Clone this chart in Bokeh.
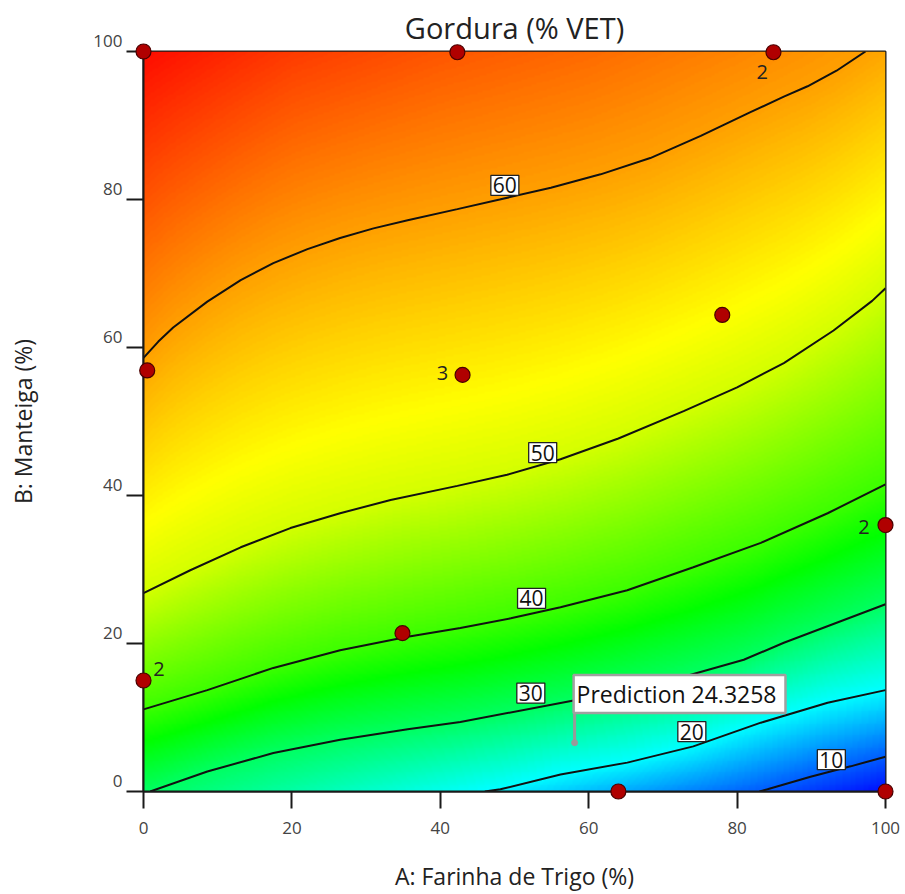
import numpy as np
from bokeh.plotting import figure
from bokeh.models import LinearColorMapper, Label, Range1d, FixedTicker, ColumnDataSource
from bokeh.embed import file_html
from bokeh.resources import INLINE
from bokeh.core.properties import value

# ---------------- data ----------------
levels = [10, 20, 30, 40, 50, 60]

c10_x = [83.0, 84.1, 89.9, 95.3, 100.0]
c10_y = [0.0, 0.3, 2.0, 3.4, 4.7]
c20_x = [46.0, 48.1, 56.2, 65.2, 74.1, 83.2, 92.2, 100.0]
c20_y = [0.0, 0.3, 2.3, 3.9, 6.1, 9.3, 12.0, 13.7]
c30_x = [0.9, 8.6, 17.5, 26.5, 35.6, 42.7, 58.5, 72.8, 80.9, 86.3, 100.0]
c30_y = [0.0, 2.7, 5.2, 7.0, 8.4, 9.4, 12.4, 15.5, 17.8, 20.1, 25.3]
c40_x = [0.0, 8.6, 17.5, 26.5, 35.6, 42.7, 49.5, 56.2, 65.2, 74.1, 83.2, 92.2, 100.0]
c40_y = [11.1, 13.7, 16.7, 19.1, 20.9, 22.1, 23.4, 24.9, 27.2, 30.3, 33.6, 37.6, 41.5]
c50_x = [0.0, 6.3, 13.1, 19.8, 26.5, 33.3, 42.3, 49.0, 56.2, 64.0, 72.8, 80.0, 86.3, 93.0, 98.2, 100.0]
c50_y = [26.8, 29.9, 33.0, 35.6, 37.6, 39.4, 41.3, 42.8, 44.9, 47.7, 51.4, 54.6, 57.9, 62.3, 66.3, 68.0]
c60_x = [0.0, 2.0, 4.0, 8.6, 13.1, 17.5, 22.1, 26.5, 31.0, 35.6, 42.3, 48.0, 54.9, 61.6, 68.3, 75.1, 81.8, 86.3, 89.5, 93.4, 97.3]
c60_y = [58.6, 60.8, 62.7, 66.2, 69.1, 71.4, 73.3, 74.8, 76.1, 77.2, 78.7, 80.0, 81.6, 83.4, 85.6, 88.6, 91.8, 93.9, 95.3, 97.4, 100.0]

# estimated response along the bottom and top edges
bottom_x = [0.0, 0.9, 46.0, 83.0, 100.0]
bottom_v = [29.7, 30.0, 20.0, 10.0, 5.0]
top_x = [0.0, 20.0, 40.0, 60.0, 80.0, 97.3, 100.0]
top_v = [71.0, 67.5, 65.5, 64.0, 62.0, 60.0, 59.5]

label_x = [48.7, 53.8, 52.3, 52.2, 73.9, 92.7]
label_y = [81.9, 45.8, 26.1, 13.3, 8.1, 4.3]
label_txt = ["60", "50", "40", "30", "20", "10"]

pt_x = [0.0, 42.3, 84.9, 0.5, 43.0, 78.0, 100.0, 34.9, 0.0, 64.0, 100.0]
pt_y = [100.0, 99.9, 99.9, 56.9, 56.3, 64.4, 36.0, 21.4, 15.0, 0.0, 0.0]

rep_x = [83.4, 40.3, 97.1, 2.1]
rep_y = [97.2, 56.6, 35.8, 16.5]
rep_txt = ["2", "3", "2", "2"]

pred_x = 58.1
pred_y = 6.6
pred_text = "Prediction  24.3258"

x_ticks = [0, 20, 40, 60, 80, 100]
y_ticks = [0, 20, 40, 60, 80, 100]
y_tick_labels = ["0", "20", "40", "60", "80", "100"]

contours = {10: (c10_x, c10_y), 20: (c20_x, c20_y), 30: (c30_x, c30_y),
            40: (c40_x, c40_y), 50: (c50_x, c50_y), 60: (c60_x, c60_y)}

# ---------------- colour field from contour positions ----------------
nx, ny = 400, 400
xs = np.linspace(0, 100, nx)
ys = np.linspace(0, 100, ny)
bot = np.interp(xs, bottom_x, bottom_v)
top = np.interp(xs, top_x, top_v)
field = np.zeros((ny, nx))
for i, xv in enumerate(xs):
    ky = [0.0]
    kv = [bot[i]]
    for lev in levels:
        cx, cy = contours[lev]
        if cx[0] <= xv <= cx[-1]:
            yy = float(np.interp(xv, cx, cy))
            if 0.0 < yy < 100.0:
                ky.append(yy)
                kv.append(lev)
    ky.append(100.0)
    kv.append(top[i])
    o = np.argsort(ky)
    field[:, i] = np.interp(ys, np.array(ky)[o], np.array(kv)[o])

# blue -> cyan -> green -> yellow -> red, anchored at response values
stop_v = [4.0, 20.0, 36.0, 53.0, 72.0]
stop_rgb = [(0, 0, 255), (0, 255, 255), (0, 255, 0), (255, 255, 0), (255, 0, 0)]
LOW, HIGH = stop_v[0], stop_v[-1]
palette = []
for k in range(256):
    v = LOW + (HIGH - LOW) * k / 255
    rgb = [int(round(np.interp(v, stop_v, [c[ch] for c in stop_rgb]))) for ch in range(3)]
    palette.append("#%02x%02x%02x" % tuple(rgb))
mapper = LinearColorMapper(palette=palette, low=LOW, high=HIGH)

# ---------------- figure ----------------
FONT = "Open Sans"
p = figure(width=905, height=894, output_backend="svg", toolbar_location=None,
           x_range=Range1d(0, 100), y_range=Range1d(0, 100),
           min_border_left=143, min_border_right=20, min_border_top=50, min_border_bottom=100,
           title="Gordura (% VET)")
p.title.align = "center"
p.title.text_font = FONT
p.title.text_font_size = "29px"
p.title.text_font_style = "normal"
p.title.text_color = "#222222"
p.title.standoff = 10
p.grid.visible = False
p.outline_line_color = "#1a1a1a"
p.outline_line_width = 2
p.outline_line_alpha = 1

p.image(image=[field], x=0, y=0, dw=100, dh=100, color_mapper=mapper)

for lev in levels:
    cx, cy = contours[lev]
    p.line(cx, cy, line_color="#111111", line_width=2)

for xx, yy, tt in zip(label_x, label_y, label_txt):
    p.add_layout(Label(x=xx, y=yy, text=tt, text_align="center", text_baseline="middle",
                       text_font=FONT, text_font_size="21px", text_color="#111111",
                       background_fill_color="white", border_line_color="#222222",
                       border_line_width=1.3, padding=2))

# prediction flag
p.segment(x0=[pred_x], y0=[pred_y], x1=[pred_x], y1=[pred_y + 4.0], line_color="#999999", line_width=3)
p.scatter([pred_x], [pred_y], size=6, fill_color="#999999", line_color="#999999")
p.add_layout(Label(x=pred_x, y=pred_y + 4.0, text=pred_text, text_align="left", text_baseline="bottom",
                   x_offset=-1, text_font=FONT, text_font_size="23px", text_color="#111111",
                   background_fill_color="white", border_line_color="#a0a0a0",
                   border_line_width=2.5, padding=3))

# design points
pts = p.scatter(pt_x, pt_y, size=15, fill_color="#b00000", line_color="#4a0000", line_width=1.2)
pts.level = "overlay"
src = ColumnDataSource(dict(x=rep_x, y=rep_y, t=rep_txt))
p.text(x="x", y="y", text="t", source=src, text_font=value(FONT), text_font_size="20px",
       text_color="#222222", text_align="center", text_baseline="middle")

# axes
for ax in (p.xaxis[0], p.yaxis[0]):
    ax.axis_line_color = "#1a1a1a"
    ax.axis_line_width = 2
    ax.major_tick_line_color = "#1a1a1a"
    ax.major_tick_line_width = 2
    ax.major_tick_in = 0
    ax.major_tick_out = 17
    ax.minor_tick_line_color = None
    ax.major_label_text_font = FONT
    ax.major_label_text_font_size = "17px"
    ax.major_label_text_color = "#444444"
    ax.axis_label_text_font = FONT
    ax.axis_label_text_font_size = "23px"
    ax.axis_label_text_font_style = "normal"
    ax.axis_label_text_color = "#222222"

p.xaxis.ticker = FixedTicker(ticks=x_ticks)
p.yaxis.ticker = FixedTicker(ticks=y_ticks)
p.xaxis.axis_label = "A: Farinha de Trigo (%)"
p.yaxis.axis_label = "B: Manteiga (%)"
p.xaxis.major_label_standoff = 13
p.xaxis.axis_label_standoff = 23

# y tick labels sit above their ticks in the reference: draw them as text
p.yaxis.major_label_overrides = {t: "" for t in y_ticks}
p.yaxis.major_label_standoff = 0
p.yaxis.axis_label_standoff = 88
ytl = p.text(x=[0] * len(y_ticks), y=y_ticks, text=y_tick_labels, x_offset=-21, y_offset=-11,
             text_font=value(FONT), text_font_size="17px", text_color="#444444",
             text_align="right", text_baseline="middle")
ytl.level = "overlay"

open("out.html", "w").write(file_html(p, INLINE))
